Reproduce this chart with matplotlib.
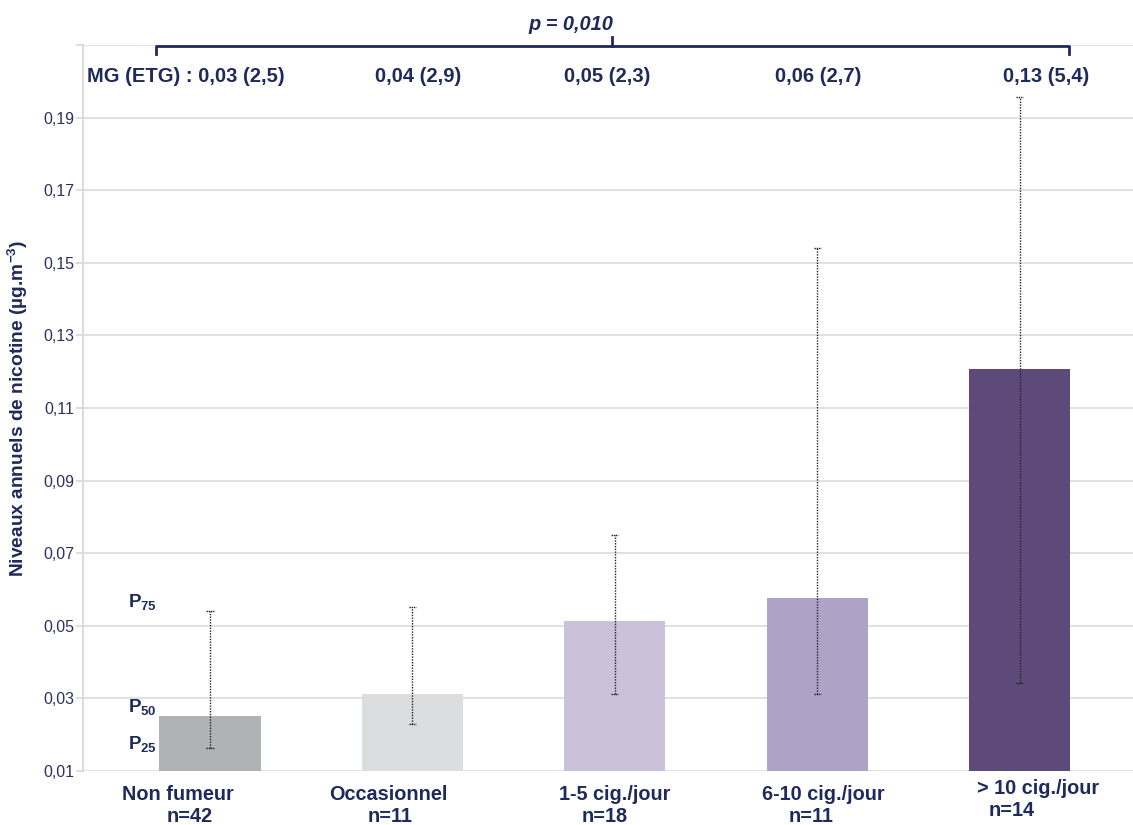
import matplotlib
matplotlib.use("Agg")
import matplotlib.pyplot as plt
from matplotlib.transforms import blended_transform_factory
import numpy as np

plt.rcParams['font.family'] = ['Liberation Sans', 'DejaVu Sans']
plt.rcParams['mathtext.fontset'] = 'custom'
plt.rcParams['mathtext.rm'] = 'Liberation Sans'
plt.rcParams['mathtext.bf'] = 'Liberation Sans:bold'
plt.rcParams['mathtext.it'] = 'Liberation Sans:italic'

# ---- data ----
categories = ["Non fumeur", "Occasionnel", "1-5 cig./jour", "6-10 cig./jour", "> 10 cig./jour"]
n_values = [42, 11, 18, 11, 14]
p50 = [0.0252, 0.0312, 0.0513, 0.0577, 0.1208]
p25 = [0.0163, 0.0230, 0.0312, 0.0312, 0.0343]
p75 = [0.0541, 0.0552, 0.0750, 0.1542, 0.1958]
mg_labels = ["MG (ETG) : 0,03 (2,5)", "0,04 (2,9)", "0,05 (2,3)", "0,06 (2,7)", "0,13 (5,4)"]
p_value = "p = 0,010"
yticks = [0.01, 0.03, 0.05, 0.07, 0.09, 0.11, 0.13, 0.15, 0.17, 0.19, 0.21]
ytick_labels = ["0,01", "0,03", "0,05", "0,07", "0,09", "0,11", "0,13", "0,15", "0,17", "0,19", ""]

colors = ["#b1b2b6", "#dcdddf", "#cbc2da", "#b0a1c6", "#5e4a7a"]
navy = "#1f2a5c"

W, H = 1133, 825
fig = plt.figure(figsize=(W / 100, H / 100), dpi=100)
ax = fig.add_axes([83 / W, (H - 771) / H, 1 - 83 / W, (771 - 45) / H])

x = np.arange(len(categories))
base = 0.01
ax.bar(x, np.array(p50) - base, bottom=base, width=0.5, color=colors, zorder=2)
ax.set_ylim(0.01, 0.21)
ax.set_xlim(-0.627, 4.56)

# error bars (P25 - P75), dotted
for xi, lo, hi in zip(x, p25, p75):
    ax.vlines(xi, lo, hi, colors="#222222", linestyles=(0, (1, 1)), linewidth=1.0, zorder=3)
    ax.hlines([lo, hi], xi - 0.018, xi + 0.018, colors="#222222", linestyles=(0, (1, 0.6)), linewidth=1.0, zorder=3)

# grid
ax.set_yticks(yticks)
ax.set_yticklabels(ytick_labels, fontsize=11.5, color="#2b3160")
ax.yaxis.grid(True, color="#dedede", linewidth=1.3, zorder=0)
ax.set_axisbelow(True)
ax.tick_params(axis='y', length=5, width=1.2, color="#d8d8d8", pad=1)
ax.tick_params(axis='x', length=0)
ax.set_xticks([])
for s in ["top", "right", "bottom"]:
    ax.spines[s].set_visible(False)
ax.spines["left"].set_color("#d8d8d8")
ax.spines["left"].set_linewidth(1.3)

ax.set_ylabel(r"Niveaux annuels de nicotine (µg.m$^{\mathbf{-3}}$)", fontsize=13.8,
              fontweight="bold", color=navy)
ax.yaxis.set_label_coords(-0.0505, 0.5)

# x category labels (two lines, individually offset as in the original)
line1_dx = [-0.16, -0.12, 0.0, 0.03, 0.09]
line1_y = [795, 795, 795, 795, 789]
line2_dx = [-0.10, -0.11, -0.05, -0.03, -0.04]
line2_y = [816, 816, 816, 816, 811]
tr = blended_transform_factory(ax.transData, fig.transFigure)
for i, (cat, n) in enumerate(zip(categories, n_values)):
    ax.text(x[i] + line1_dx[i], 1 - line1_y[i] / H, cat, transform=tr, ha="center", va="center",
            fontsize=14.3, fontweight="bold", color=navy, clip_on=False)
    ax.text(x[i] + line2_dx[i], 1 - line2_y[i] / H, f"n={n}", transform=tr, ha="center", va="center",
            fontsize=14.3, fontweight="bold", color=navy, clip_on=False)

# MG labels
mg_x = [186, 418, 607, 818, 1046]
for lab, px in zip(mg_labels, mg_x):
    fig.text(px / W, 1 - 77 / H, lab, ha="center", va="center", fontsize=14.5,
             fontweight="bold", color=navy)

# bracket
fig_px = fig.transFigure
bx0, bx1, bmid = 156 / W, 1069 / W, 612 / W
by = 1 - 46 / H
fig.add_artist(plt.Line2D([bx0, bx0, bx1, bx1], [1 - 54 / H, by, by, 1 - 54 / H],
                          transform=fig_px, color=navy, linewidth=2, solid_joinstyle="round"))
fig.add_artist(plt.Line2D([bmid, bmid], [by, 1 - 37 / H], transform=fig_px, color=navy, linewidth=2))
fig.text(571 / W, 1 - 24 / H, p_value, ha="center", va="center", fontsize=14.4,
         fontweight="bold", fontstyle="italic", color=navy)

# percentile annotations
for lab, py in [("75", 602), ("50", 707), ("25", 744)]:
    fig.text(128 / W, 1 - py / H, r"$\mathbf{P}_{\mathbf{" + lab + "}}$", ha="left", va="center",
             fontsize=13.5, color=navy)

fig.savefig("out.png", dpi=100)
